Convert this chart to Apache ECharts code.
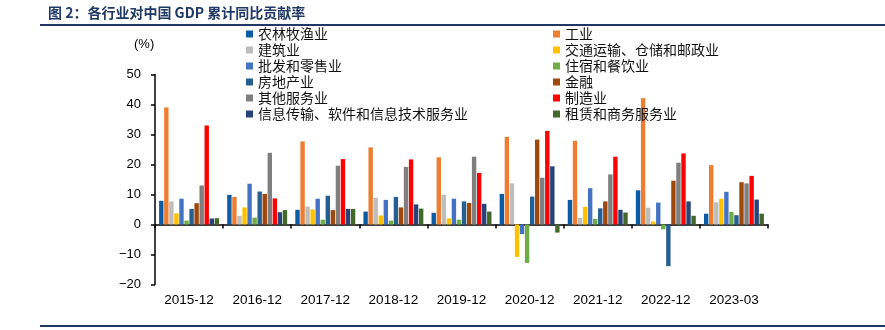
<!DOCTYPE html>
<html>
<head>
<meta charset="utf-8">
<script src="https://cdn.jsdelivr.net/npm/echarts@6/dist/echarts.min.js"></script>
<style>
  html, body { margin: 0; padding: 0; background: #fff; }
  #chart { width: 885px; height: 330px; }
</style>
</head>
<body>
<div id="chart"></div>
<script>
// Periods on the category axis
const categories = ['2015-12', '2016-12', '2017-12', '2018-12', '2019-12', '2020-12', '2021-12', '2022-12', '2023-03'];

// Contribution to cumulative GDP growth by industry (%)
const agriculture   = [7.9, 9.9, 4.9, 4.3, 3.9, 10.2, 8.2, 11.4, 3.6];
const industry      = [39.0, 9.2, 27.7, 25.7, 22.4, 29.2, 27.9, 42.1, 19.8];
const construction  = [7.7, 2.9, 6.0, 8.9, 9.9, 13.7, 2.2, 5.6, 7.4];
const transport     = [3.7, 5.7, 5.0, 3.0, 2.0, -10.8, 5.9, 1.0, 8.6];
const wholesale     = [8.6, 13.6, 8.6, 8.2, 8.6, -3.2, 12.1, 7.3, 10.9];
const hospitality   = [1.3, 2.3, 1.6, 1.3, 1.6, -12.8, 1.9, -1.6, 4.2];
const realEstate    = [5.2, 11.0, 9.6, 9.2, 7.7, 9.3, 5.4, -13.9, 3.1];
const finance       = [7.1, 10.2, 4.8, 5.7, 7.2, 28.3, 7.7, 14.6, 14.1];
const otherServices = [13.0, 23.9, 19.6, 19.2, 22.6, 15.6, 16.7, 20.6, 13.7];
const manufacturing = [33.0, 8.7, 21.8, 21.7, 17.2, 31.2, 22.6, 23.7, 16.2];
const infoTech      = [2.0, 4.1, 5.2, 6.7, 6.9, 19.4, 4.9, 7.7, 8.3];
const leasing       = [2.1, 4.8, 5.2, 5.3, 4.3, -2.7, 4.0, 2.9, 3.6];

// Y axis range
const yMin = -20, yMax = 50, yStep = 10;

const seriesDefs = [
  ['农林牧渔业', agriculture, '#0B5BA5'],
  ['工业', industry, '#ED7D31'],
  ['建筑业', construction, '#BDBDBD'],
  ['交通运输、仓储和邮政业', transport, '#FFC000'],
  ['批发和零售业', wholesale, '#4472C4'],
  ['住宿和餐饮业', hospitality, '#70AD47'],
  ['房地产业', realEstate, '#255E91'],
  ['金融', finance, '#9E480E'],
  ['其他服务业', otherServices, '#7F7F7F'],
  ['制造业', manufacturing, '#FF0000'],
  ['信息传输、软件和信息技术服务业', infoTech, '#264478'],
  ['租赁和商务服务业', leasing, '#43682B']
];

const cjk = '"Noto Sans CJK SC", sans-serif';
const latin = '"Liberation Sans", Arial, sans-serif';
const navy = '#1F3864';

const legendCommon = {
  orient: 'vertical',
  top: 27,
  padding: 0,
  itemWidth: 7,
  itemHeight: 7,
  itemGap: 2,
  icon: 'rect',
  selectedMode: false,
  textStyle: { fontFamily: cjk, fontSize: 14, lineHeight: 14, color: '#111' }
};

const chart = echarts.init(document.getElementById('chart'), null, { renderer: 'canvas' });

chart.setOption({
  animation: false,
  backgroundColor: '#fff',
  grid: { left: 155, right: 117, top: 74.5, bottom: 45.5, containLabel: false },
  legend: [
    Object.assign({}, legendCommon, {
      left: 246,
      data: seriesDefs.filter((d, i) => i % 2 === 0).map(d => d[0])
    }),
    Object.assign({}, legendCommon, {
      left: 553,
      data: seriesDefs.filter((d, i) => i % 2 === 1).map(d => d[0])
    })
  ],
  xAxis: [
    {
      type: 'category',
      data: categories,
      axisLine: { onZero: true, lineStyle: { color: '#000', width: 1.5 } },
      axisTick: { show: true, length: 4, lineStyle: { color: '#000', width: 1.5 } },
      axisLabel: { show: false },
      splitLine: { show: false }
    },
    {
      type: 'category',
      data: categories,
      position: 'bottom',
      axisLine: { show: false, onZero: false },
      axisTick: { show: false },
      axisLabel: { margin: 9, fontFamily: latin, fontSize: 13.5, color: '#000' },
      splitLine: { show: false }
    }
  ],
  yAxis: {
    type: 'value',
    min: yMin,
    max: yMax,
    interval: yStep,
    axisLine: { show: true, lineStyle: { color: '#000', width: 1.5 } },
    axisTick: { show: true, length: 4, lineStyle: { color: '#000', width: 1.5 } },
    axisLabel: {
      margin: 14,
      fontFamily: latin,
      fontSize: 13,
      color: '#000',
      formatter: v => String(v).replace('-', '\u2212')
    },
    splitLine: { show: false }
  },
  series: seriesDefs.map(([name, values, color]) => ({
    name: name,
    type: 'bar',
    xAxisIndex: 0,
    data: values,
    barCategoryGap: '12%',
    barGap: '15%',
    itemStyle: { color: color }
  })),
  graphic: [
    {
      type: 'text',
      left: 48,
      top: 6,
      style: {
        text: '图 2：各行业对中国 GDP 累计同比贡献率',
        font: 'bold 14px ' + cjk,
        fill: navy
      }
    },
    {
      type: 'line',
      shape: { x1: 40, y1: 25, x2: 885, y2: 25 },
      style: { stroke: navy, lineWidth: 2 }
    },
    {
      type: 'text',
      left: 134,
      top: 38,
      style: { text: '(%)', font: '13px ' + latin, fill: '#000' }
    },
    {
      type: 'line',
      shape: { x1: 40, y1: 326, x2: 885, y2: 326 },
      style: { stroke: navy, lineWidth: 2 }
    }
  ]
});
</script>
</body>
</html>
